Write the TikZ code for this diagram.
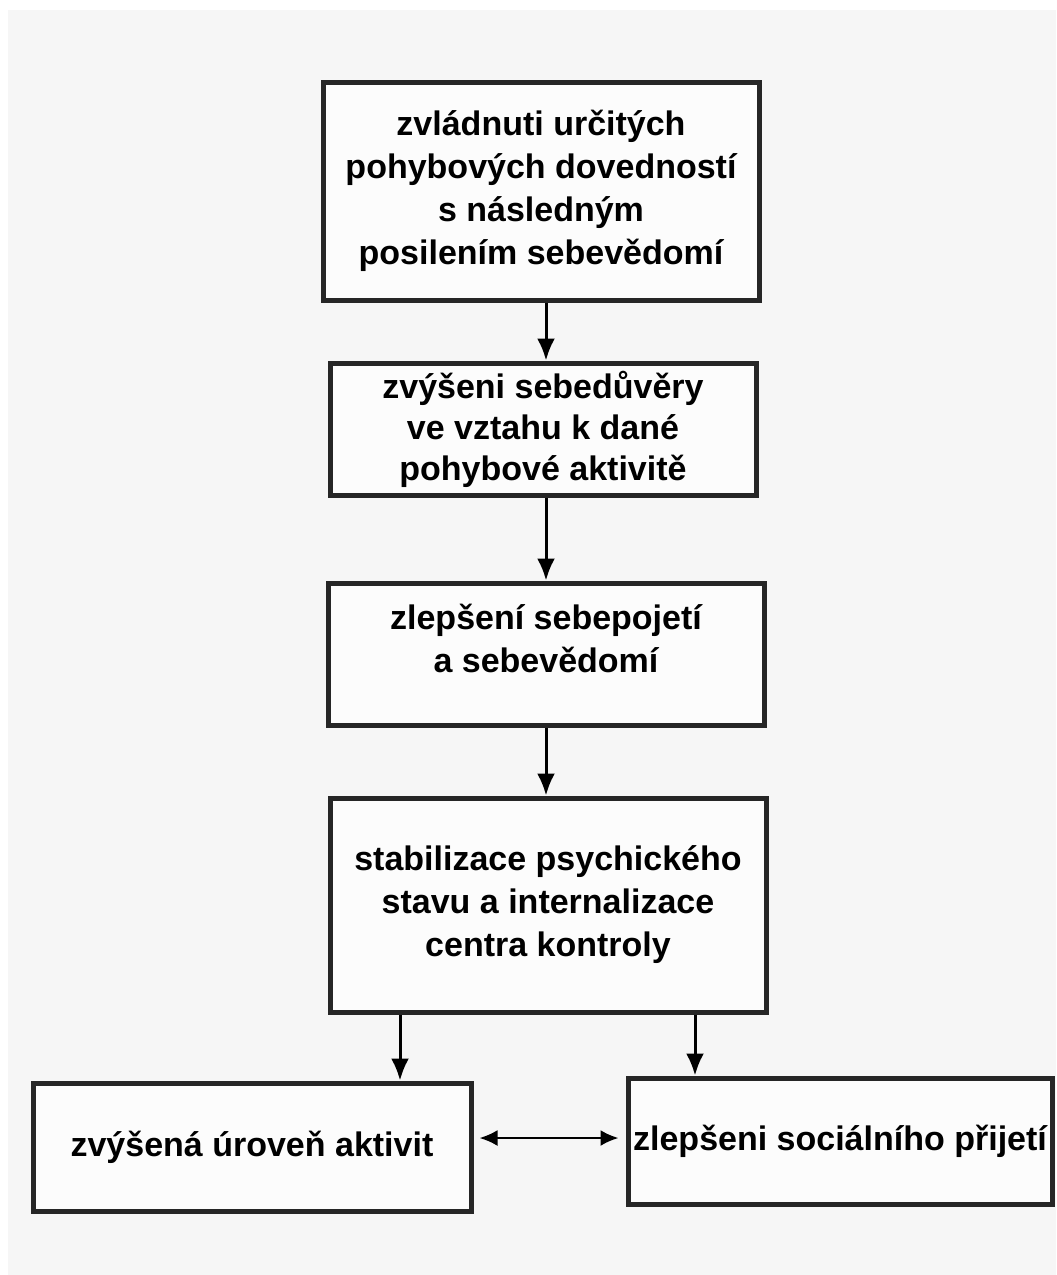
\documentclass[tikz,border=0pt]{standalone}
\usepackage{fontspec}
\setmainfont{Liberation Sans}
\usetikzlibrary{shapes,arrows.meta}

\begin{document}
\begin{tikzpicture}[x=0.5pt,y=-0.5pt]
		\tikzstyle {box} = [draw=black!85, line width=2.5pt, fill=gray!2, align=center, inner sep=0pt, font=\bfseries\fontsize{17}{21.5}\selectfont]
		\tikzstyle {flow} = [line width=1.5pt, -{Latex[length=11pt,width=9pt]}]
		\tikzstyle {both ways} = [line width=1.2pt, {Latex[length=9pt,width=8pt]}-{Latex[length=9pt,width=8pt]}]

		\useasboundingbox (0,0) rectangle (1056,1275);
		\fill[gray!7] (8,10) rectangle (1056,1275);

		\node[box, minimum width=218pt, minimum height=109pt] (skills) at (541,191)
			{zvládnuti určitých\\pohybových dovedností\\s následným\\posilením sebevědomí};
		\node[box, minimum width=213pt, minimum height=66pt, font=\bfseries\fontsize{17}{20.5}\selectfont] (trust) at (543,429)
			{zvýšeni sebedůvěry\\ve vztahu k dané\\pohybové aktivitě};
		\node[box, minimum width=218pt, minimum height=71pt, text depth=16pt] (selfimage) at (546,654)
			{zlepšení sebepojetí\\a sebevědomí};
		\node[box, minimum width=218pt, minimum height=107pt] (stable) at (548,905)
			{stabilizace psychického\\stavu a internalizace\\centra kontroly};
		\node[box, minimum width=219pt, minimum height=64pt] (activity) at (252,1147)
			{zvýšená úroveň aktivit};
		\node[box, minimum width=212pt, minimum height=63pt] (social) at (840,1141)
			{zlepšeni sociálního přijetí};

		\coordinate (spine) at (546,0);
		\coordinate (left drop) at (400,0);
		\coordinate (right drop) at (695,0);
		\coordinate (link) at (0,1138);

		\draw[flow] (skills.south -| spine) -- (trust.north -| spine);
		\draw[flow] (trust.south -| spine) -- (selfimage.north -| spine);
		\draw[flow] (selfimage.south -| spine) -- (stable.north -| spine);
		\draw[flow] (stable.south -| left drop) -- (activity.north -| left drop);
		\draw[flow] (stable.south -| right drop) -- (social.north -| right drop);
		\draw[both ways] ([xshift=3pt]activity.east |- link) -- ([xshift=-3.5pt]social.west |- link);
	\end{tikzpicture}
\end{document}
